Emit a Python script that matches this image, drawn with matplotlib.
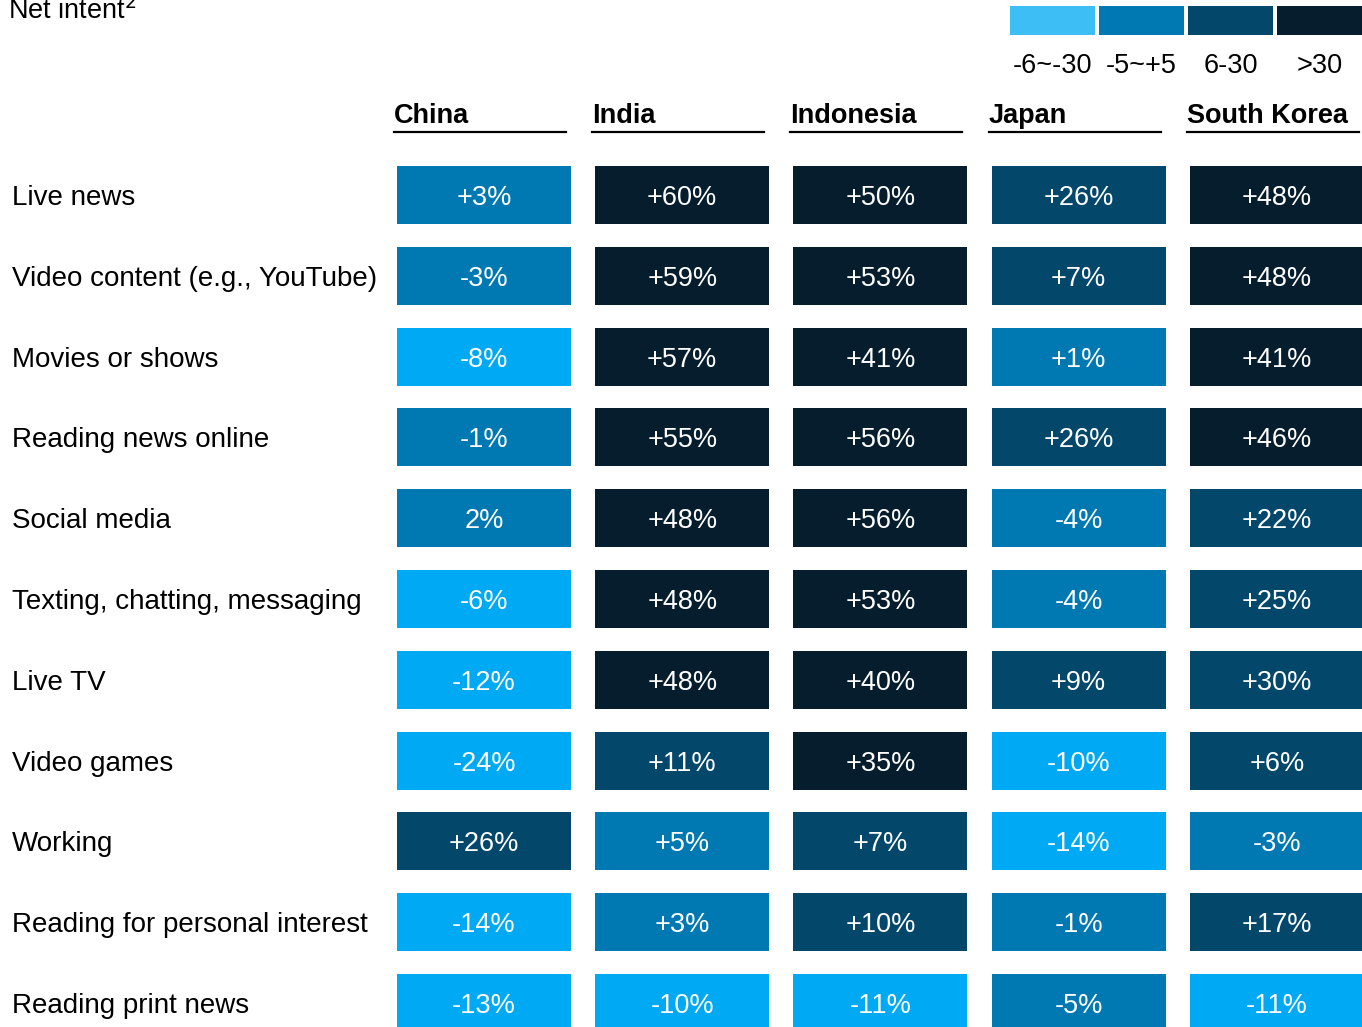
import matplotlib.pyplot as plt
from matplotlib.patches import Rectangle

plt.rcParams['font.family'] = ['Liberation Sans', 'DejaVu Sans']

activities = ['Live news', 'Video content (e.g., YouTube)', 'Movies or shows',
              'Reading news online', 'Social media', 'Texting, chatting, messaging',
              'Live TV', 'Video games', 'Working', 'Reading for personal interest',
              'Reading print news']
countries = ['China', 'India', 'Indonesia', 'Japan', 'South Korea']

china = ['+3%', '-3%', '-8%', '-1%', '2%', '-6%', '-12%', '-24%', '+26%', '-14%', '-13%']
india = ['+60%', '+59%', '+57%', '+55%', '+48%', '+48%', '+48%', '+11%', '+5%', '+3%', '-10%']
indonesia = ['+50%', '+53%', '+41%', '+56%', '+56%', '+53%', '+40%', '+35%', '+7%', '+10%', '-11%']
japan = ['+26%', '+7%', '+1%', '+26%', '-4%', '-4%', '+9%', '-10%', '-14%', '-1%', '-5%']
south_korea = ['+48%', '+48%', '+41%', '+46%', '+22%', '+25%', '+30%', '+6%', '-3%', '+17%', '-11%']

legend_labels = ['-6~-30', '-5~+5', '6-30', '>30']
legend_colors = ['#3DBEF5', '#0079B2', '#03476B', '#061D2E']
cell_colors = ['#00A9F4', '#0079B2', '#03476B', '#061D2E']

columns = [china, india, indonesia, japan, south_korea]


def bucket(label):
    v = int(label.strip('%'))
    if v <= -6:
        return 0
    if v <= 5:
        return 1
    if v <= 30:
        return 2
    return 3


W, H = 1362, 1027
fig = plt.figure(figsize=(W / 100, H / 100), dpi=100)
ax = fig.add_axes([0, 0, 1, 1])
ax.set_xlim(0, W)
ax.set_ylim(H, 0)
ax.axis('off')

x0, col_step, cell_w = 397, 198.2, 174
y0, row_step, cell_h = 166, 80.8, 58
fs = 19.5
dy = 3  # text baseline nudge

# column headers
for j, name in enumerate(countries):
    x = x0 + j * col_step
    ax.text(x - 3, 113 + dy, name, fontsize=fs, fontweight='bold', va='center', ha='left')
    ax.plot([x - 3, x + cell_w - 5], [132, 132], color='black', lw=1.6)

# rows
for i, act in enumerate(activities):
    y = y0 + i * row_step
    ax.text(12, y + cell_h / 2 + dy, act, fontsize=20, va='center', ha='left')
    for j, col in enumerate(columns):
        x = x0 + j * col_step
        ax.add_patch(Rectangle((x, y), cell_w, cell_h, color=cell_colors[bucket(col[i])], lw=0))
        ax.text(x + cell_w / 2, y + cell_h / 2 + dy, col[i], fontsize=fs, color='white',
                ha='center', va='center')

# title
ax.text(8, 11, 'Net intent$^2$', fontsize=fs, va='center', ha='left')

# legend
lx0, lstep, lw_ = 1010, 89, 85
for k, (lab, c) in enumerate(zip(legend_labels, legend_colors)):
    x = lx0 + k * lstep
    ax.add_patch(Rectangle((x, 6), lw_, 29, color=c, lw=0))
    ax.text(x + lw_ / 2, 63 + dy, lab, fontsize=fs, ha='center', va='center')

fig.savefig('out.png', dpi=100)
